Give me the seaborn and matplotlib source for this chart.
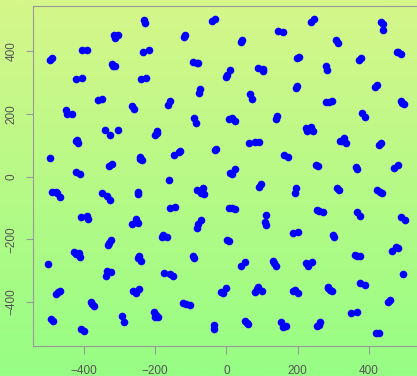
import numpy as np
import pandas as pd
import seaborn as sns
from matplotlib import pyplot as plt
from matplotlib.colors import LinearSegmentedColormap

# point positions (clusters of 1-4 points)
x_vals = [
    -230, -228, -316, -314, -303, -405, -390, -233, -217, -490, -494,
    -322, -313, -318, -423, -405, -241, -226, -361, -350, -266, -259,
    -449, -434, -447,
    -39, -31, -120, -115, 146, 159, 41, 43, -94, -79, -82, 10, 3, -1,
    89, 102, 102, -73, -76, 67, 71, -157, -163,
    237, 245, 434, 439, 440, 308, 314, 198, 205, 483, 489, 478, 373, 378,
    281, 282, 195, 198, 416, 424, 280, 296, 288, 489, 499, 492, 382, 390,
    -340, -326, -303, -195, -200, -194, -422, -416, -418, -496,
    -242, -237, -242, -329, -322, -423, -411, -490, -477, -467, -475,
    -348, -334, -326, -247, -247, -408, -390, -389, -255, -264, -249,
    -92, -84, 8, 17, 25, 143, 140, 64, 81, 93, 163, 172, -146, -133, -131,
    -32, -28, 11, 25, 17, -162, -82, -65, -72, -64, 92, 98, -158, -144,
    8, 25, 15, -72, -79, -83, 110, 109, 112,
    224, 237, 242, 226, 319, 331, 335, 324, 429, 433, 251, 256, 365, 367,
    470, 483, 195, 192, 311, 316, 422, 437, 430, 254, 270, 261, 368, 376,
    491, 502,
    -329, -325, -332, -427, -414, -411, -422, -501, -245, -240, -247,
    -336, -324, -339, -474, -467, -478, -261, -246, -254, -380, -371, -376,
    -492, -486, -294, -288, -203, -201, -191, -198, -408, -400,
    -177, -167, -180, 1, 6, -93, -91, -174, -158, -149, 41, 53,
    132, 139, 135, -16, -2, -10, 81, 90, 99, 85, -121, -102, -114,
    -36, -34, 53, 62, 57, 154, 160, 168,
    188, 202, 298, 303, 464, 476, 483, 361, 375, 368, 224, 240, 230, 497,
    188, 202, 193, 285, 291, 296, 286, 375, 389, 455, 460, 350, 368,
    254, 263, 261, 419, 428,
]
y_vals = [
    501, 492, 452, 443, 453, 405, 405, 398, 403, 380, 372,
    359, 352, 354, 311, 315, 311, 315, 245, 247, 226, 215,
    213, 201, 200,
    497, 502, 447, 452, 464, 462, 429, 437, 366, 362, 364, 339, 323, 317,
    348, 343, 336, 279, 267, 263, 249, 242, 229,
    495, 503, 493, 486, 469, 437, 428, 379, 382, 397, 391, 399, 371, 378,
    354, 341, 283, 290, 286, 292, 238, 241, 239, 242, 233, 234, 202, 190,
    148, 134, 148, 147, 132, 139, 114, 107, 116, 58,
    63, 52, 56, 34, 41, 14, 8, -49, -48, -66, -51,
    -53, -63, -76, -50, -55, -129, -126, -136, -135, -152, -149,
    188, 171, 185, 188, 178, 194, 183, 108, 111, 112, 69, 63, 69, 79, 83,
    84, 89, 10, 24, 9, -12, -44, -37, -51, -55, -34, -23, -99, -98,
    -101, -104, -99, -138, -152, -163, -124, -144, -154,
    155, 158, 147, 145, 114, 123, 107, 115, 100, 107, 37, 33, 32, 24,
    29, 36, -35, -51, -35, -43, -43, -53, -48, -108, -113, -110, -112, -127,
    -128, -138,
    -211, -204, -218, -240, -245, -258, -248, -278, -253, -271, -261,
    -301, -304, -317, -367, -364, -375, -364, -360, -371, -399, -412, -408,
    -455, -460, -445, -463, -431, -449, -449, -442, -488, -492,
    -186, -192, -194, -202, -205, -253, -260, -309, -311, -319, -284, -274,
    -268, -285, -277, -367, -357, -371, -367, -351, -365, -358, -405, -410, -407,
    -474, -488, -460, -471, -466, -463, -479, -477,
    -181, -178, -187, -194, -236, -224, -229, -250, -253, -253, -277, -274, -284, -312,
    -364, -371, -362, -351, -362, -364, -357, -341, -346, -399, -394, -434, -433,
    -477, -463, -474, -498, -498,
]
ticks = [-400, -200, 0, 200, 400]

sns.set_style("ticks")
plt.rcParams['font.family'] = ['Liberation Sans', 'DejaVu Sans']

fig = plt.figure(figsize=(4.17, 3.76), dpi=100)

# vertical gradient behind everything
bg = fig.add_axes([0, 0, 1, 1], zorder=0)
grad = np.linspace(0, 1, 256).reshape(-1, 1)
cmap = LinearSegmentedColormap.from_list("bg", ["#d6f68a", "#96fe84"])
bg.imshow(grad, aspect='auto', cmap=cmap, extent=[0, 1, 0, 1], origin='upper')
bg.axis('off')

ax = fig.add_axes([0.0799, 0.0806, 0.9259, 0.9027], zorder=1)
ax.set_facecolor('none')
df = pd.DataFrame({'x': x_vals, 'y': y_vals})
sns.scatterplot(data=df, x='x', y='y', ax=ax, color='#0000ff', s=30,
                linewidth=0)

ax.set_xlim(-542, 542)
ax.set_ylim(-540, 544)
ax.set_xticks(ticks)
ax.set_yticks(ticks)
ax.set_xlabel('')
ax.set_ylabel('')
for sp in ax.spines.values():
    sp.set_visible(True)
    sp.set_color('#999999')
    sp.set_linewidth(0.8)
ax.tick_params(length=5.4, width=0.8, color='#999999', labelcolor='#555555',
               labelsize=8.5, pad=8.5)
ax.tick_params(axis='y', pad=6)
plt.setp(ax.get_yticklabels(), rotation=90, va='center')

fig.savefig('out.png', dpi=100)
